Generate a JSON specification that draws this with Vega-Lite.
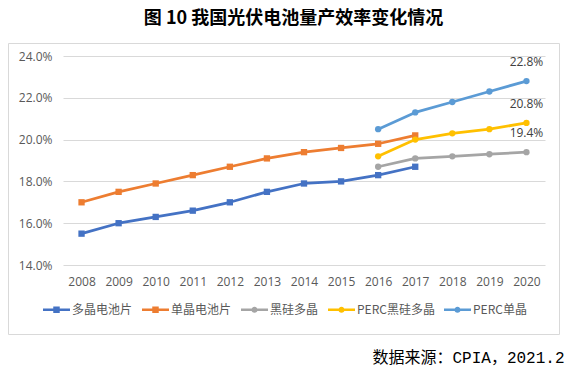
{
  "$schema": "https://vega.github.io/schema/vega-lite/v6.json",
  "autosize": "none",
  "width": 551,
  "height": 291,
  "padding": {"left": 8, "top": 43, "right": 8, "bottom": 33},
  "background": "#ffffff",
  "title": {
    "text": "图 10 我国光伏电池量产效率变化情况",
    "font": "Noto Sans CJK SC",
    "fontSize": 18,
    "fontWeight": "bold",
    "color": "#000000",
    "anchor": "middle",
    "offset": 15,
    "dx": 10
  },
  "config": {
    "view": {"stroke": "#D9D9D9", "strokeWidth": 1},
    "axis": {"labelFont": "Open Sans", "labelFontSize": 12, "labelColor": "#595959", "domain": false, "ticks": false, "tickSize": 0}
  },
  "data": {
    "values": [
      {"series": "多晶电池片", "year": "2008", "value": 0.155},
      {"series": "多晶电池片", "year": "2009", "value": 0.160},
      {"series": "多晶电池片", "year": "2010", "value": 0.163},
      {"series": "多晶电池片", "year": "2011", "value": 0.166},
      {"series": "多晶电池片", "year": "2012", "value": 0.170},
      {"series": "多晶电池片", "year": "2013", "value": 0.175},
      {"series": "多晶电池片", "year": "2014", "value": 0.179},
      {"series": "多晶电池片", "year": "2015", "value": 0.180},
      {"series": "多晶电池片", "year": "2016", "value": 0.183},
      {"series": "多晶电池片", "year": "2017", "value": 0.187},
      {"series": "单晶电池片", "year": "2008", "value": 0.170},
      {"series": "单晶电池片", "year": "2009", "value": 0.175},
      {"series": "单晶电池片", "year": "2010", "value": 0.179},
      {"series": "单晶电池片", "year": "2011", "value": 0.183},
      {"series": "单晶电池片", "year": "2012", "value": 0.187},
      {"series": "单晶电池片", "year": "2013", "value": 0.191},
      {"series": "单晶电池片", "year": "2014", "value": 0.194},
      {"series": "单晶电池片", "year": "2015", "value": 0.196},
      {"series": "单晶电池片", "year": "2016", "value": 0.198},
      {"series": "单晶电池片", "year": "2017", "value": 0.202},
      {"series": "黑硅多晶", "year": "2016", "value": 0.187},
      {"series": "黑硅多晶", "year": "2017", "value": 0.191},
      {"series": "黑硅多晶", "year": "2018", "value": 0.192},
      {"series": "黑硅多晶", "year": "2019", "value": 0.193},
      {"series": "黑硅多晶", "year": "2020", "value": 0.194},
      {"series": "PERC黑硅多晶", "year": "2016", "value": 0.192},
      {"series": "PERC黑硅多晶", "year": "2017", "value": 0.200},
      {"series": "PERC黑硅多晶", "year": "2018", "value": 0.203},
      {"series": "PERC黑硅多晶", "year": "2019", "value": 0.205},
      {"series": "PERC黑硅多晶", "year": "2020", "value": 0.208},
      {"series": "PERC单晶", "year": "2016", "value": 0.205},
      {"series": "PERC单晶", "year": "2017", "value": 0.213},
      {"series": "PERC单晶", "year": "2018", "value": 0.218},
      {"series": "PERC单晶", "year": "2019", "value": 0.223},
      {"series": "PERC单晶", "year": "2020", "value": 0.228}
    ]
  },
  "encoding": {
    "x": {
      "field": "year",
      "type": "ordinal",
      "scale": {"type": "point", "range": [55, 537], "padding": 0.5},
      "axis": {
        "orient": "bottom",
        "offset": -60,
        "labelAngle": 0,
        "labelPadding": 2,
        "grid": false,
        "title": "数据来源：CPIA，2021.2",
        "titleFont": "Liberation Mono, Noto Sans CJK SC",
        "titleFontSize": 16,
        "titleFontWeight": "normal",
        "titleColor": "#000000",
        "titleX": 556,
        "titleY": 83,
        "titleAlign": "right",
        "titleBaseline": "middle"
      }
    },
    "y": {
      "field": "value",
      "type": "quantitative",
      "scale": {"domain": [0.14, 0.24], "range": [222, 13], "nice": false, "zero": false},
      "axis": {
        "title": null,
        "offset": -48,
        "labelPadding": 4,
        "values": [0.14, 0.16, 0.18, 0.20, 0.22, 0.24],
        "format": ".1%",
        "grid": true,
        "gridColor": "#D9D9D9",
        "gridWidth": 1
      }
    }
  },
  "layer": [
    {
      "mark": {"type": "line", "strokeWidth": 2.75, "strokeJoin": "round", "strokeCap": "round"},
      "encoding": {
        "color": {
          "field": "series",
          "type": "nominal",
          "scale": {
            "domain": ["多晶电池片", "单晶电池片", "黑硅多晶", "PERC黑硅多晶", "PERC单晶"],
            "range": ["#4472C4", "#ED7D31", "#A5A5A5", "#FFC000", "#5B9BD5"]
          },
          "legend": {
            "orient": "none",
            "legendX": 35,
            "legendY": 253,
            "direction": "horizontal",
            "title": null,
            "labelFont": "Noto Sans CJK SC",
            "labelFontSize": 12,
            "labelColor": "#595959",
            "symbolSize": 729,
            "labelOffset": 2,
            "columnPadding": 9,
            "symbolStrokeWidth": 0,
            "encode": {
              "symbols": {
                "update": {
                  "shape": {"signal": "indexof(['多晶电池片','单晶电池片'], datum.value) >= 0 ? 'M-1,-0.09H1V0.09H-1Z M-0.24,-0.24H0.24V0.24H-0.24Z' : 'M-1,-0.09H1V0.09H-1Z M0.23,0A0.23,0.23,0,1,1,-0.23,0A0.23,0.23,0,1,1,0.23,0Z'"},
                  "fill": {"scale": "color", "field": "value"},
                  "stroke": {"value": "transparent"},
                  "opacity": {"value": 1}
                }
              }
            }
          }
        }
      }
    },
    {
      "transform": [{"filter": {"field": "series", "oneOf": ["多晶电池片", "单晶电池片"]}}],
      "mark": {"type": "point", "shape": "square", "filled": true, "size": 40, "opacity": 1},
      "encoding": {
        "color": {"field": "series", "type": "nominal"}
      }
    },
    {
      "transform": [{"filter": {"field": "series", "oneOf": ["黑硅多晶", "PERC黑硅多晶", "PERC单晶"]}}],
      "mark": {"type": "point", "shape": "circle", "filled": true, "size": 40, "opacity": 1},
      "encoding": {
        "color": {"field": "series", "type": "nominal"}
      }
    },
    {
      "transform": [{"filter": "datum.year == '2020'"}],
      "mark": {"type": "text", "dy": -19, "baseline": "middle", "align": "center", "font": "Open Sans", "fontSize": 12, "color": "#404040"},
      "encoding": {
        "text": {"field": "value", "type": "quantitative", "format": ".1%"}
      }
    }
  ]
}
